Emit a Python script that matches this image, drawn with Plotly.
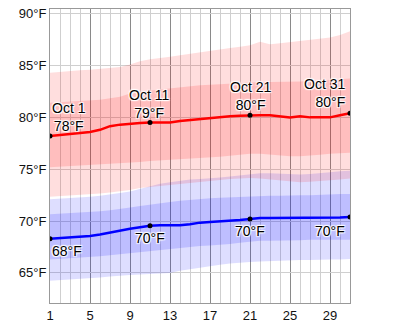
import plotly.graph_objects as go

days = list(range(1, 32))

high_avg = [78.2, 78.3, 78.4, 78.5, 78.6, 78.8, 79.15, 79.3, 79.4, 79.45, 79.5, 79.5, 79.5, 79.65, 79.75,
            79.8, 79.9, 80.0, 80.1, 80.15, 80.2, 80.2, 80.2, 80.1, 80.0, 80.1, 80.0, 80.0, 80.0, 80.2, 80.4]
high_p90 = [84.3, 84.4, 84.5, 84.55, 84.6, 84.7, 84.8, 84.85, 85.1, 85.4, 85.6, 85.7, 85.85, 86.0, 86.15,
            86.25, 86.45, 86.6, 86.7, 86.8, 86.95, 87.3, 87.05, 87.15, 87.25, 87.35, 87.45, 87.55, 87.7, 87.95, 88.3]
high_p75 = [81.4, 81.45, 81.5, 81.55, 81.6, 81.7, 81.85, 82.0, 82.3, 82.5, 82.6, 82.7, 82.8, 82.95, 83.05,
            83.1, 83.15, 83.2, 83.3, 83.3, 83.35, 83.4, 83.4, 83.4, 83.45, 83.45, 83.5, 83.55, 83.6, 83.65, 83.75]
high_p25 = [75.2, 75.25, 75.3, 75.35, 75.4, 75.45, 75.5, 75.55, 75.6, 75.7, 75.8, 75.85, 75.9, 75.95, 76.05,
            76.1, 76.15, 76.2, 76.3, 76.4, 76.5, 76.5, 76.4, 76.3, 76.25, 76.25, 76.3, 76.4, 76.5, 76.55, 76.6]
high_p10 = [72.35, 72.4, 72.45, 72.5, 72.55, 72.65, 72.75, 72.85, 73.0, 73.2, 73.3, 73.4, 73.5, 73.6, 73.7,
            73.8, 73.9, 74.0, 74.05, 74.1, 74.15, 74.1, 74.0, 73.9, 73.8, 73.75, 73.8, 73.85, 73.95, 74.0, 74.1]

low_avg = [68.3, 68.35, 68.4, 68.45, 68.55, 68.7, 68.9, 69.1, 69.25, 69.4, 69.55, 69.6, 69.6, 69.6, 69.7,
           69.85, 69.9, 69.95, 70.0, 70.1, 70.2, 70.3, 70.3, 70.3, 70.3, 70.3, 70.3, 70.3, 70.3, 70.35, 70.4]
low_p90 = [72.1, 72.15, 72.2, 72.3, 72.35, 72.45, 72.55, 72.7, 72.85, 73.1, 73.4, 73.6, 73.75, 73.9, 74.0,
           74.05, 74.1, 74.2, 74.3, 74.4, 74.55, 74.6, 74.6, 74.55, 74.5, 74.5, 74.55, 74.6, 74.7, 74.8, 74.85]
low_p75 = [70.65, 70.7, 70.75, 70.8, 70.85, 70.95, 71.05, 71.15, 71.3, 71.45, 71.6, 71.75, 71.85, 71.95, 72.05,
           72.15, 72.2, 72.25, 72.3, 72.35, 72.4, 72.45, 72.45, 72.45, 72.5, 72.5, 72.5, 72.55, 72.55, 72.6, 72.6]
low_p25 = [66.3, 66.35, 66.4, 66.45, 66.5, 66.6, 66.7, 66.8, 66.9, 67.0, 67.1, 67.2, 67.3, 67.45, 67.55,
           67.6, 67.65, 67.7, 67.8, 67.9, 68.0, 68.1, 68.1, 68.1, 68.15, 68.15, 68.2, 68.2, 68.2, 68.2, 68.2]
low_p10 = [64.25, 64.3, 64.35, 64.4, 64.45, 64.55, 64.65, 64.75, 64.8, 64.85, 64.9, 64.95, 65.0, 65.2, 65.35,
           65.5, 65.7, 65.8, 65.9, 66.0, 66.05, 66.1, 66.15, 66.2, 66.2, 66.25, 66.25, 66.3, 66.3, 66.3, 66.35]

marked_days = [1, 11, 21, 31]
x_ticks = [1, 5, 9, 13, 17, 21, 25, 29]

FONT = "Liberation Sans, Arial, sans-serif"
HALO = "1px 1px 1px #fff, -1px -1px 1px #fff, 1px -1px 1px #fff, -1px 1px 1px #fff"

fig = go.Figure()

def band(lo, hi, color):
    fig.add_trace(go.Scatter(x=days, y=lo, mode="lines", line=dict(width=0),
                             hoverinfo="skip", showlegend=False))
    fig.add_trace(go.Scatter(x=days, y=hi, mode="lines", line=dict(width=0),
                             fill="tonexty", fillcolor=color,
                             hoverinfo="skip", showlegend=False))

band(low_p10, low_p90, "rgba(0,0,255,0.13)")
band(low_p25, low_p75, "rgba(0,0,255,0.14)")
band(high_p10, high_p90, "rgba(255,0,0,0.13)")
band(high_p25, high_p75, "rgba(255,0,0,0.14)")

fig.add_trace(go.Scatter(x=days, y=low_avg, mode="lines",
                         line=dict(color="#0000ff", width=2.5), showlegend=False))
fig.add_trace(go.Scatter(x=days, y=high_avg, mode="lines",
                         line=dict(color="#ff0000", width=2.5), showlegend=False))

mk_hi = [high_avg[d - 1] for d in marked_days]
mk_lo = [low_avg[d - 1] for d in marked_days]
fig.add_trace(go.Scatter(x=marked_days + marked_days, y=mk_hi + mk_lo, mode="markers",
                         marker=dict(color="#000", size=5), showlegend=False))

# labels
hi_labels = [
    (2.85, 80.0, "Oct 1<br>78°F", "center"),
    (10.85, 81.33, "Oct 11<br>79°F", "center"),
    (21.05, 82.1, "Oct 21<br>80°F", "center"),
    (30.65, 82.32, "Oct 31<br>80°F", "right"),
]
lo_labels = [
    (2.7, 67.1, "68°F", "center"),
    (11.0, 68.33, "70°F", "center"),
    (21.0, 69.0, "70°F", "center"),
    (30.65, 69.09, "70°F", "right"),
]
for x, y, t, anc in hi_labels + lo_labels:
    fig.add_annotation(x=x, y=y, text=t, showarrow=False, xanchor=anc, yanchor="middle",
                       align=anc if anc != "center" else "center",
                       font=dict(family=FONT, size=14, color="#000", shadow=HALO))

fig.update_xaxes(range=[1, 31], tickvals=x_ticks, ticktext=[str(v) for v in x_ticks],
                 showgrid=True, gridcolor="#8a8a8a", gridwidth=1,
                 minor=dict(dtick=1, tick0=1, showgrid=True, gridcolor="#cfcfcf", gridwidth=1),
                 showline=True, linecolor="#999", linewidth=1, mirror=True,
                 zeroline=False, ticks="", tickfont=dict(family=FONT, size=13, color="#111"))
fig.update_yaxes(range=[62.1, 90.45], tickvals=[65, 70, 75, 80, 85, 90],
                 ticktext=["65°F", "70°F", "75°F", "80°F", "85°F", "90°F"],
                 showgrid=True, gridcolor="#cfcfcf", gridwidth=1,
                 showline=True, linecolor="#999", linewidth=1, mirror=True,
                 zeroline=False, ticks="", tickfont=dict(family=FONT, size=13, color="#111"))

fig.update_layout(width=400, height=329, margin=dict(l=50, r=50, t=6, b=23),
                  plot_bgcolor="#fff", paper_bgcolor="#fff", showlegend=False)

fig.write_html("out.html")
